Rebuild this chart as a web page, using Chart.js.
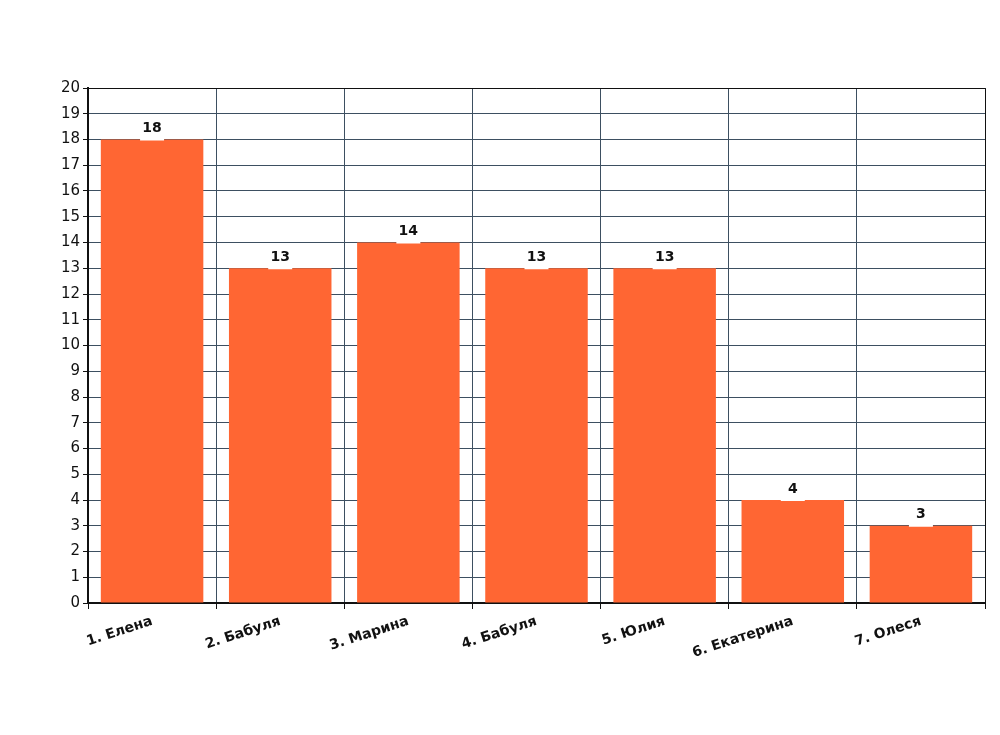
<!DOCTYPE html>
<html>
<head>
<meta charset="utf-8">
<script src="https://cdn.jsdelivr.net/npm/chart.js@4/dist/chart.umd.min.js"></script>
<style>
  html, body { margin: 0; padding: 0; background: #fff; }
  canvas { display: block; }
</style>
</head>
<body>
<canvas id="chart" width="1000" height="735"></canvas>
<script>
// Данные
const names = ['1. Елена', '2. Бабуля', '3. Марина', '4. Бабуля', '5. Юлия', '6. Екатерина', '7. Олеся'];
const scores = [18, 13, 14, 13, 13, 4, 3];
const yMin = 0;
const yMax = 20;

const fontFamily = '"Comic Sans MS", "DejaVu Sans", sans-serif';

// Подписи значений над столбцами
const valueLabels = {
    id: 'valueLabels',
    afterDatasetsDraw(chart) {
        const ctx = chart.ctx;
        const meta = chart.getDatasetMeta(0);
        ctx.save();
        ctx.font = 'bold 14px ' + fontFamily;
        ctx.textAlign = 'center';
        ctx.textBaseline = 'bottom';
        meta.data.forEach((bar, i) => {
            const txt = String(scores[i]);
            ctx.fillStyle = '#fff';
            ctx.fillRect(bar.x - 12, bar.y - 1, 24, 2);
            ctx.fillStyle = '#111';
            ctx.fillText(txt, bar.x, bar.y - 4);
        });
        ctx.restore();
    }
};

// Рамка справа и сверху
const frame = {
    id: 'frame',
    afterDraw(chart) {
        const a = chart.chartArea;
        const ctx = chart.ctx;
        ctx.save();
        ctx.strokeStyle = '#111';
        ctx.lineWidth = 1;
        ctx.beginPath();
        ctx.moveTo(a.left, a.top + 0.5);
        ctx.lineTo(a.right + 0.5, a.top + 0.5);
        ctx.lineTo(a.right + 0.5, a.bottom);
        ctx.stroke();
        ctx.restore();
    }
};

new Chart(document.getElementById('chart'), {
    type: 'bar',
    data: {
        labels: names,
        datasets: [{
            data: scores,
            backgroundColor: '#ff6633',
            borderWidth: 0,
            categoryPercentage: 0.8,
            barPercentage: 1.0
        }]
    },
    options: {
        responsive: false,
        animation: false,
        layout: { padding: { top: 88, right: 15, left: 0, bottom: 0 } },
        plugins: {
            legend: { display: false },
            tooltip: { enabled: false }
        },
        scales: {
            x: {
                afterFit(scale) { scale.height = 132; },
                grid: {
                    color: '#3d4f61',
                    lineWidth: 1,
                    tickLength: 6,
                    tickColor: '#111',
                    offset: true
                },
                border: { color: '#111', width: 2 },
                ticks: {
                    color: '#111',
                    font: { family: fontFamily, size: 14, weight: 'bold' },
                    minRotation: 18,
                    maxRotation: 18,
                    padding: 4
                }
            },
            y: {
                min: yMin,
                max: yMax,
                afterFit(scale) { scale.width = 88; },
                grid: {
                    color: '#3d4f61',
                    lineWidth: 1,
                    tickLength: 5,
                    tickColor: '#111'
                },
                border: { color: '#111', width: 2 },
                ticks: {
                    stepSize: 1,
                    color: '#111',
                    font: { family: fontFamily, size: 15 },
                    padding: 3
                }
            }
        }
    },
    plugins: [valueLabels, frame]
});
</script>
</body>
</html>
